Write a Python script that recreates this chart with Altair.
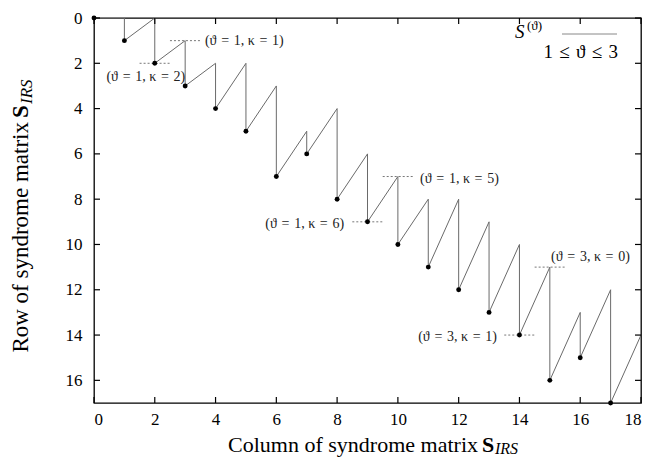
import altair as alt
import pandas as pd

# ---- data ----
cols = list(range(18))
rows = [0, 1, 2, 3, 4, 5, 7, 6, 8, 9, 10, 11, 12, 13, 14, 16, 15, 17]
# top of the vertical jump at columns 1..18
tops = [0, 0, 1, 2, 2, 3, 5, 4, 6, 7, 8, 8, 9, 10, 11, 13, 12, 14]

x_ticks = list(range(0, 19, 2))
y_ticks = list(range(0, 17, 2))

SP = "\u2004"  # math-like spacing
ann_text = [f"(ϑ{SP}={SP}1, κ{SP}={SP}1)", f"(ϑ{SP}={SP}1, κ{SP}={SP}2)",
            f"(ϑ{SP}={SP}1, κ{SP}={SP}5)", f"(ϑ{SP}={SP}1, κ{SP}={SP}6)",
            f"(ϑ{SP}={SP}3, κ{SP}={SP}0)", f"(ϑ{SP}={SP}3, κ{SP}={SP}1)"]
ann_mark_x = [3, 2, 10, 9, 15, 14]
ann_mark_y = [1, 2, 7, 9, 11, 14]
ann_label_x = [3.65, 3.0, 10.73, 8.23, 15.04, 13.26]
ann_label_y = [1.0, 2.6, 7.1, 9.1, 10.57, 14.1]
ann_side = ["left", "right", "left", "right", "left", "right"]

# ---- build tables ----
px, py = [0], [0]
for k in range(1, 19):
    px.append(k)
    py.append(tops[k - 1])
    if k < 18:
        px.append(k)
        py.append(rows[k])
path = pd.DataFrame({"x": px, "y": py, "o": list(range(len(px)))})
dots = pd.DataFrame({"x": cols, "y": rows})

half = 0.5
dash = pd.DataFrame({"x": [a - half for a in ann_mark_x],
                     "x2": [a + half for a in ann_mark_x],
                     "y": ann_mark_y})
labels = pd.DataFrame({"t": ann_text, "x": ann_label_x, "y": ann_label_y, "side": ann_side})

W, H = 547, 385
FONT = "Liberation Serif"

xs = alt.Scale(domain=[0, 18], nice=False, zero=False)
ys = alt.Scale(domain=[0, 17], nice=False, zero=False, reverse=True)

line = alt.Chart(path).mark_line(color="#6a6a6a", strokeWidth=1, clip=True).encode(
    x=alt.X("x:Q", scale=xs,
            axis=alt.Axis(values=x_ticks, title="", labelFont=FONT, labelFontSize=17,
                          labelColor="black", labelPadding=8, ticks=False, domain=False,
                          grid=False, format="d")),
    y=alt.Y("y:Q", scale=ys,
            axis=alt.Axis(values=y_ticks, title="", labelFont=FONT, labelFontSize=17,
                          labelColor="black", labelPadding=12, ticks=False, domain=False,
                          grid=False, format="d")),
    order="o:Q",
)

pts = alt.Chart(dots).mark_point(filled=True, color="black", size=24, opacity=1).encode(
    x=alt.X("x:Q", scale=xs), y=alt.Y("y:Q", scale=ys))

dashes = alt.Chart(dash).mark_rule(color="#555555", strokeWidth=0.8, strokeDash=[2, 2]).encode(
    x=alt.X("x:Q", scale=xs), x2="x2:Q", y=alt.Y("y:Q", scale=ys))

lab_left = alt.Chart(labels).transform_filter(alt.datum.side == "left").mark_text(
    font=FONT, fontSize=14, align="left", baseline="middle", color="#222222").encode(
    x=alt.X("x:Q", scale=xs), y=alt.Y("y:Q", scale=ys), text="t:N")
lab_right = alt.Chart(labels).transform_filter(alt.datum.side == "right").mark_text(
    font=FONT, fontSize=14, align="right", baseline="middle", color="#222222").encode(
    x=alt.X("x:Q", scale=xs), y=alt.Y("y:Q", scale=ys), text="t:N")

# inward ticks on all four sides
tdf_x = pd.DataFrame({"v": x_ticks})
tdf_y = pd.DataFrame({"v": y_ticks})
tick_len = 6
xt_bottom = alt.Chart(tdf_x).mark_rule(color="black", strokeWidth=1.2).encode(
    x=alt.X("v:Q", scale=xs), y=alt.value(H - tick_len), y2=alt.value(H))
xt_top = alt.Chart(tdf_x).mark_rule(color="black", strokeWidth=1.2).encode(
    x=alt.X("v:Q", scale=xs), y=alt.value(0), y2=alt.value(tick_len))
yt_left = alt.Chart(tdf_y).mark_rule(color="black", strokeWidth=1.2).encode(
    y=alt.Y("v:Q", scale=ys), x=alt.value(0), x2=alt.value(tick_len))
yt_right = alt.Chart(tdf_y).mark_rule(color="black", strokeWidth=1.2).encode(
    y=alt.Y("v:Q", scale=ys), x=alt.value(W - tick_len), x2=alt.value(W))

one = pd.DataFrame({"a": [0]})

def txt(s, x, y, size, weight="normal", style="normal", align="left", angle=0, color="black"):
    kw = dict(font=FONT, fontSize=size, fontWeight=weight, fontStyle=style, align=align,
              baseline="alphabetic", color=color)
    if angle:
        kw["angle"] = angle
    return alt.Chart(one).mark_text(text=s, **kw).encode(x=alt.value(x), y=alt.value(y))

# x-axis title
xt1 = txt("Column of syndrome matrix", 384, 434, 22, align="right")
xt2 = txt("S", 388, 434, 22, weight="bold")
xt3 = txt("IRS", 401, 436, 16, style="italic")
# y-axis title (rotated)
yt1 = txt("Row of syndrome matrix", -66, 104, 23, align="right", angle=270)
yt2 = txt("S", -66, 100, 23, weight="bold", angle=270)
yt3 = txt("IRS", -62, 86, 17, style="italic", angle=270)

# key
k1 = txt("S", 421, 20, 19, style="italic")
k2 = txt("(ϑ)", 433, 12, 13)
k3 = txt(f"1{SP}≤{SP}ϑ{SP}≤{SP}3", 524, 40, 19, align="right")
kline = alt.Chart(one).mark_rule(color="#888888", strokeWidth=1).encode(
    x=alt.value(468), x2=alt.value(523), y=alt.value(16))

chart = alt.layer(
    line, dashes, pts, lab_left, lab_right,
    xt_bottom, xt_top, yt_left, yt_right,
    xt1, xt2, xt3, yt1, yt2, yt3, k1, k2, k3, kline,
).properties(
    width=W, height=H,
    autosize=alt.AutoSizeParams(type="none"),
    padding={"left": 86, "top": 10, "right": 18, "bottom": 55},
    background="white",
).configure_view(stroke="black", strokeWidth=1.3)

chart.save("out.html", embed_options={"renderer": "svg", "actions": False})
